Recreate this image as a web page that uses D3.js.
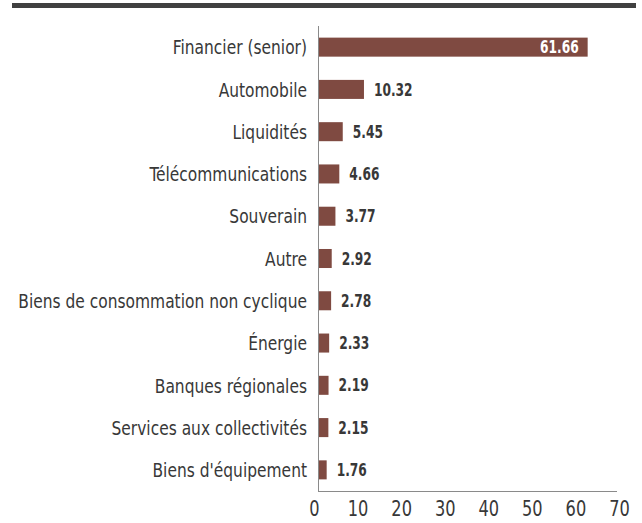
<!DOCTYPE html>
<html>
<head>
<meta charset="utf-8">
<script src="https://cdn.jsdelivr.net/npm/d3@7"></script>
<style>
  body { margin: 0; background: #fff; }
  svg text { font-family: "DejaVu Sans Condensed", "DejaVu Sans", sans-serif; }
</style>
</head>
<body>
<div id="graphic"></div>
<script>
// Chart data
var categories = [
  'Financier (senior)', 'Automobile', 'Liquidités', 'Télécommunications',
  'Souverain', 'Autre', 'Biens de consommation non cyclique', 'Énergie',
  'Banques régionales', 'Services aux collectivités', "Biens d'équipement"
];
var values = [61.66, 10.32, 5.45, 4.66, 3.77, 2.92, 2.78, 2.33, 2.19, 2.15, 1.76];
var tickValues = [0, 10, 20, 30, 40, 50, 60, 70];

var BAR_COLOR = '#7f4a41';
var TEXT_COLOR = '#383838';

// squeeze text horizontally to mimic the condensed face of the original
var squeeze = function (px, py, s) {
  return 'translate(' + px + ',' + py + ') scale(' + s + ',1)';
};

var renderGraphic = function () {
  var width = 642;
  var height = 523;

  var svg = d3.select('#graphic')
    .append('svg')
    .attr('width', width)
    .attr('height', height);

  // Top rule
  svg.append('rect')
    .attr('x', 12)
    .attr('y', 3)
    .attr('width', 624)
    .attr('height', 5)
    .attr('fill', '#404040');

  var x = d3.scaleLinear()
    .domain([0, 70])
    .range([319, 624]);

  var y = d3.scaleBand()
    .domain(categories)
    .range([26, 491])
    .paddingInner(0.55)
    .paddingOuter(0.275);

  var mid = function (c) { return y(c) + y.bandwidth() / 2; };

  // Bars
  svg.selectAll('rect.bar')
    .data(values)
    .enter().append('rect')
    .attr('class', 'bar')
    .attr('x', x(0))
    .attr('y', function (d, i) { return y(categories[i]); })
    .attr('width', function (d) { return x(d) - x(0); })
    .attr('height', y.bandwidth())
    .attr('fill', BAR_COLOR);

  // Category labels
  svg.selectAll('text.cat')
    .data(categories)
    .enter().append('text')
    .attr('class', 'cat')
    .attr('transform', function (d) { return squeeze(307, mid(d), 0.86); })
    .attr('dy', '0.36em')
    .attr('text-anchor', 'end')
    .attr('font-size', 20)
    .attr('fill', TEXT_COLOR)
    .text(function (d) { return d; });

  // Value labels (first one inside the bar)
  svg.selectAll('text.val')
    .data(values)
    .enter().append('text')
    .attr('class', 'val')
    .attr('transform', function (d, i) {
      var px = i === 0 ? x(d) - 9 : x(d) + 10;
      return squeeze(px, mid(categories[i]), 0.8);
    })
    .attr('dy', '0.36em')
    .attr('text-anchor', function (d, i) { return i === 0 ? 'end' : 'start'; })
    .attr('font-size', 17)
    .attr('font-weight', 'bold')
    .attr('fill', function (d, i) { return i === 0 ? '#fff' : TEXT_COLOR; })
    .text(function (d) { return d.toFixed(2); });

  // Axis lines
  svg.append('line')
    .attr('x1', x(0) - 0.5).attr('x2', x(0) - 0.5)
    .attr('y1', 26).attr('y2', 491.5)
    .attr('stroke', '#8a8a8a').attr('stroke-width', 1);

  svg.append('line')
    .attr('x1', x(0) - 1).attr('x2', 617)
    .attr('y1', 491.5).attr('y2', 491.5)
    .attr('stroke', '#8a8a8a').attr('stroke-width', 1);

  // X tick labels
  var xAxis = d3.axisBottom(x)
    .tickValues(tickValues)
    .tickSize(0)
    .tickPadding(0)
    .tickFormat(d3.format('d'));

  var axisG = svg.append('g')
    .attr('transform', 'translate(-5,500)')
    .call(xAxis);
  axisG.select('.domain').remove();
  axisG.selectAll('.tick text')
    .attr('font-family', '"DejaVu Sans Condensed", "DejaVu Sans", sans-serif')
    .attr('font-size', 22)
    .attr('fill', TEXT_COLOR)
    .attr('transform', 'scale(0.82,1)');
};

window.onload = renderGraphic;
</script>
</body>
</html>
